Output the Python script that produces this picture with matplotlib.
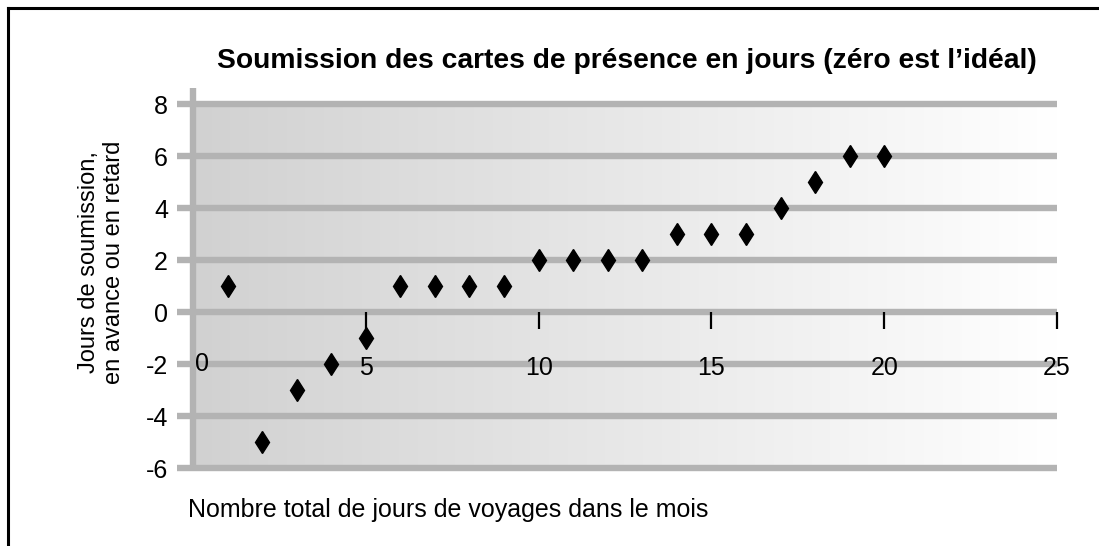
import numpy as np
import matplotlib
matplotlib.use("Agg")
import matplotlib.pyplot as plt
from matplotlib.lines import Line2D

# Data: total travel days in the month vs. days early/late for timesheet submission
travel_days = [1, 2, 3, 4, 5, 6, 7, 8, 9, 10, 11, 12, 13, 14, 15, 16, 17, 18, 19, 20]
submission_days = [1, -5, -3, -2, -1, 1, 1, 1, 1, 2, 2, 2, 2, 3, 3, 3, 4, 5, 6, 6]
x_ticks = [0, 5, 10, 15, 20, 25]
y_ticks = [-6, -4, -2, 0, 2, 4, 6, 8]

title = "Soumission des cartes de présence en jours (zéro est l’idéal)"
x_label = "Nombre total de jours de voyages dans le mois"
y_label = "Jours de soumission,\nen avance ou en retard"

plt.rcParams["font.family"] = ["Liberation Sans", "DejaVu Sans"]

W, H = 1099, 546
fig = plt.figure(figsize=(W / 100, H / 100), dpi=100)
fig.patch.set_facecolor("white")

ax = fig.add_axes([193 / W, 1 - 468 / H, (1057 - 193) / W, (468 - 104) / H])
ax.set_xlim(0, 25)
ax.set_ylim(-6, 8)

grid_gray = "#b3b3b3"

# Horizontal gradient background (grey on the left fading to white)
t = np.linspace(0, 1, 256)
shade = 0.82 + 0.18 * t
grad = np.stack([shade, shade, shade], axis=-1)[None, :, :]
ax.imshow(grad, extent=[0, 25, -6, 8], aspect="auto", zorder=0, interpolation="bicubic")
ax.set_facecolor("white")

for s in ax.spines.values():
    s.set_visible(False)

# Horizontal gridlines, extended a little left of the axis as tick stubs
for yv in y_ticks:
    ax.plot([-0.46, 25], [yv, yv], color=grid_gray, lw=4.6, solid_capstyle="butt",
            clip_on=False, zorder=1)

# Vertical axis line (grey), extending above the top gridline
ax.add_line(Line2D([0, 0], [-6.12, 8.6], color=grid_gray, lw=4.6,
                   solid_capstyle="butt", clip_on=False, zorder=3))

# Y tick labels
ax.set_yticks(y_ticks)
ax.set_yticklabels([str(v) for v in y_ticks])
ax.tick_params(axis="y", length=0, pad=18, labelsize=18, colors="black")

# X axis placed at y = 0 with black ticks, labels further down
ax.spines["bottom"].set_position(("data", 0))
ax.set_xticks(x_ticks)
ax.set_xticklabels(["" if v == 0 else str(v) for v in x_ticks])
ax.tick_params(axis="x", direction="out", length=12, width=1.6, color="black",
               pad=20, labelsize=18)
# The origin label sits just right of the vertical axis line
ax.annotate(str(x_ticks[0]), xy=(x_ticks[0], 0), xytext=(6.2, -37.5),
            textcoords="offset points", ha="center", va="center", fontsize=18,
            annotation_clip=False)

# Data markers
ax.plot(travel_days, submission_days, linestyle="none", marker="d", markersize=11.2,
        color="black", zorder=5, clip_on=False)

# Titles and labels
fig.text(627 / W, 1 - 68 / H, title, ha="center", va="baseline", fontsize=20.3,
         fontweight="bold")
fig.text(101.5 / W, 1 - 262 / H, y_label, ha="center", va="center", rotation=90,
         fontsize=17, multialignment="center", linespacing=1.15)
fig.text(188 / W, 1 - 517 / H, x_label, ha="left", va="baseline", fontsize=18)

# Frame along the top and left edges of the figure
fig.add_artist(Line2D([8 / W, 8 / W], [0, 1 - 8 / H], color="black", lw=2.2,
                      transform=fig.transFigure))
fig.add_artist(Line2D([8 / W, 1], [1 - 8 / H, 1 - 8 / H], color="black", lw=2.2,
                      transform=fig.transFigure))

fig.savefig("out.png", dpi=100)
